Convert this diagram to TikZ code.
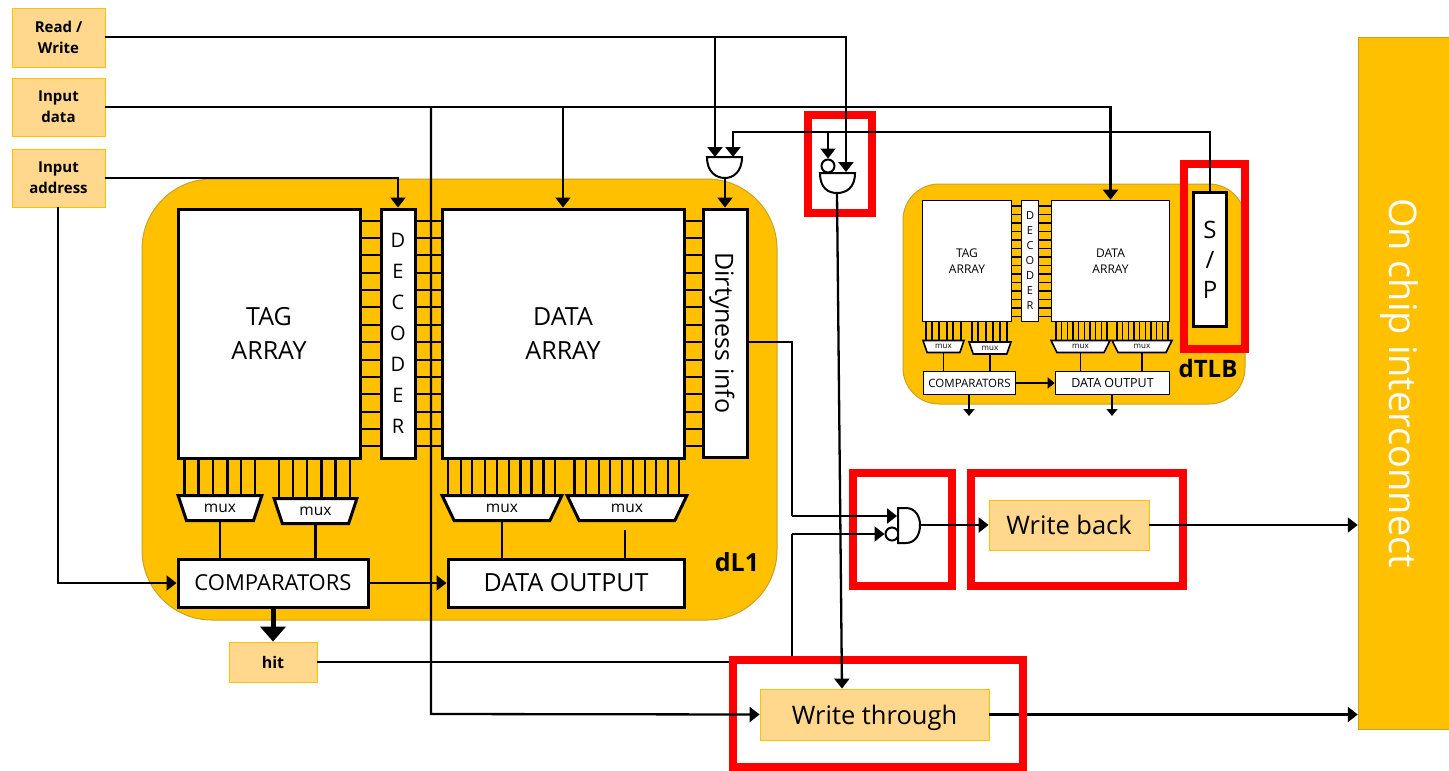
\documentclass[tikz,border=0pt]{standalone}
\usepackage{fontspec}
\setmainfont{Open Sans}
\usetikzlibrary{arrows.meta,positioning,shapes.geometric}
\definecolor{camber}{HTML}{FFC000}
\definecolor{cpale}{HTML}{FFD88E}
\definecolor{cedge}{HTML}{C9A227}
\definecolor{cred}{HTML}{FF0000}
\newcommand{\fsz}[2]{\fontsize{#1}{#2}\selectfont}

\begin{document}
\begin{tikzpicture}[
    x=1pt, y=-1pt,
    block/.style={draw, line width=3pt, fill=white, inner sep=0pt, align=center},
    smallblock/.style={draw, line width=1.6pt, fill=white, inner sep=0pt, align=center},
    signal/.style={draw=camber, line width=0.8pt, fill=cpale, inner sep=0pt, align=center},
    mux/.style={block, trapezium, shape border rotate=180, trapezium stretches=true,
        trapezium angle=65, minimum height=25, font=\fsz{15.5}{17}},
    smallmux/.style={smallblock, trapezium, shape border rotate=180, trapezium stretches=true,
        trapezium angle=65, minimum height=12, font=\fsz{8}{9}},
    cache/.style={draw=cedge, line width=1pt, fill=camber, rounded corners=#1},
    wire/.style={line width=2.3pt, -{Triangle[length=10pt, width=15pt]}},
    smallwire/.style={line width=1.6pt, -{Triangle[length=7pt, width=11pt]}},
    line/.style={line width=2.3pt},
    gate/.style={draw, line width=2pt, fill=white},
    bubble/.style={circle, draw, line width=2pt, fill=white, minimum size=13, inner sep=0pt},
    hilite/.style={draw=cred, line width=8pt},
]
\useasboundingbox (0,0) rectangle (1449,771);

% Highlights sit under the wires
\draw[hilite] (807.5,115) rectangle (872,213);
\draw[hilite] (853,473) rectangle (952,586);
\draw[hilite] (971,473) rectangle (1183,586);

% Cache bodies
\draw[cache=70] (142,179) rectangle (777,620);
\draw[cache=36] (903,184) rectangle (1245,404);
\draw[hilite] (1184,164) rectangle (1245,349);

% Inputs and outputs
\node[signal, minimum width=93, minimum height=59, font=\bfseries\fsz{15}{21}] (readwrite) at (58.5,37.5) {Read /\\Write};
\node[signal, minimum width=93, minimum height=58, font=\bfseries\fsz{15}{21}] (inputdata) at (58.5,107) {Input\\data};
\node[signal, minimum width=93, minimum height=58, font=\bfseries\fsz{15}{21}] (inputaddr) at (58.5,178) {Input\\address};
\node[signal, minimum width=88, minimum height=40, font=\bfseries\fsz{16}{18}] (hit) at (273,662) {hit};
\node[signal, minimum width=160, minimum height=50, font=\fsz{25.5}{28}] (writeback) at (1069,525) {Write back};
\node[signal, minimum width=229, minimum height=51, font=\fsz{25.5}{28}, text depth=0pt] (writethrough) at (874.5,714.5) {Write through};
\node[fill=camber, draw=cedge, line width=0.5pt, inner sep=0pt, minimum width=91, minimum height=692] (interconnect) at (1403.5,383) {};
\node[rotate=-90, text=white, font=\fsz{38}{42}, text depth=0pt] (interconnecttext) at (interconnect) {On chip interconnect};

% dL1 word lines
\foreach \y in {0,...,13} {
    \draw[line width=2pt] (361,220.7+17.35*\y) -- (441,220.7+17.35*\y);
}
\foreach \y in {0,...,13} {
    \draw[line width=2pt] (685,220.7+17.35*\y) -- (702,220.7+17.35*\y);
}

% dL1 arrays
\node[block, minimum width=182, minimum height=249, font=\fsz{25}{34}] (tagarray) at (269,333.5) {TAG\\ARRAY};
\node[block, minimum width=34, minimum height=249, font=\fsz{20}{31}] (decoder) at (398,333.5) {D\\E\\C\\O\\D\\E\\R};
\node[block, minimum width=242, minimum height=249, font=\fsz{25}{34}] (dataarray) at (563,333.5) {DATA\\ARRAY};
\node[block, minimum width=44, minimum height=248] (dirty) at (725,333) {};
\node[rotate=-90, font=\fsz{25}{28}, text depth=0pt] (dirtytext) at (dirty) {Dirtyness info};
\node[block, minimum width=190, minimum height=48, font=\fsz{22}{24}] (comparators) at (273,583) {COMPARATORS};
\node[block, minimum width=236, minimum height=48, font=\fsz{25}{28}] (dataoutput) at (566,583) {DATA OUTPUT};

% dL1 mux columns
\foreach \x in {184.5,198.6,213,227.5,241.3,255} {
    \draw[line] (\x,459) -- (\x,495);
}
\foreach \x in {279,293,307,321.5,335.6,350} {
    \draw[line] (\x,459) -- (\x,498);
}
\foreach \x in {448,461,472,485,497,509,520.6,531.6,543.6,555,574.6,586,599,610,622,633,645,656,668,679} {
    \draw[line] (\x,459) -- (\x,495);
}
\node[mux, minimum width=84] (muxa) at (220,508) {mux};
\node[mux, minimum width=83] (muxb) at (315.5,511) {mux};
\node[mux, minimum width=120] (muxc) at (502,508) {mux};
\node[mux, minimum width=120] (muxd) at (627,508) {mux};
\draw[line] (muxa.south) -- (muxa.south |- comparators.north);
\draw[line] (muxb.south) -- (muxb.south |- comparators.north);
\draw[line] (muxc.south) -- (muxc.south |- dataoutput.north);
\draw[line] (625,530) -- (625,558);

% dTLB word lines
\foreach \y in {0,...,13} {
    \draw[line width=1.4pt] (1012,206+8.5*\y) -- (1051,206+8.5*\y);
}

% dTLB arrays
\node[smallblock, minimum width=89, minimum height=121, font=\fsz{12}{16.5}] (tagtlb) at (967,261) {TAG\\ARRAY};
\node[smallblock, minimum width=17, minimum height=121, font=\fsz{11}{15}] (decodertlb) at (1030,261) {D\\E\\C\\O\\D\\E\\R};
\node[smallblock, minimum width=118, minimum height=121, font=\fsz{12}{16.5}] (datatlb) at (1110.5,261) {DATA\\ARRAY};
\node[smallblock, minimum width=92, minimum height=23, font=\fsz{11.5}{14}] (comparatorstlb) at (969.5,383) {COMPARATORS};
\node[smallblock, minimum width=114, minimum height=23, font=\fsz{12.5}{14}] (dataoutputtlb) at (1112.5,383) {DATA OUTPUT};
\node[block, minimum width=33, minimum height=134, font=\fsz{24}{30}] (sp) at (1210,259.5) {S\\/\\P};

% dTLB mux columns
\foreach \x in {926,932,939,947,953,961,972,978,986,993,1000,1007} {
    \draw[line width=1.4pt] (\x,322) -- (\x,341);
}
\foreach \x in {1056,1061.7,1067.4,1073,1078.7,1084.4,1090,1095.7,1101.4,1107,1117,1122.7,1128.4,1134,1139.7,1145.4,1151,1156.7,1162.4,1168} {
    \draw[line width=1.4pt] (\x,322) -- (\x,341);
}
\node[smallmux, minimum width=41] (muxatlb) at (943.5,346.5) {mux};
\node[smallmux, minimum width=42] (muxbtlb) at (990,348) {mux};
\node[smallmux, minimum width=59] (muxctlb) at (1080.5,346.5) {mux};
\node[smallmux, minimum width=60] (muxdtlb) at (1142,346.5) {mux};
\draw[line width=1.4pt] (muxatlb.south) -- (muxatlb.south |- comparatorstlb.north);
\draw[line width=1.4pt] (muxbtlb.south) -- (muxbtlb.south |- comparatorstlb.north);
\draw[line width=1.4pt] (muxctlb.south) -- (muxctlb.south |- dataoutputtlb.north);
\draw[line width=1.4pt] (muxdtlb.south) -- (muxdtlb.south |- dataoutputtlb.north);

% dTLB outputs
\coordinate (comparatorsout) at (969,416);
\coordinate (dataoutputout) at (1112,416);
\draw[smallwire] (comparatorstlb.east) -- (dataoutputtlb.west);
\draw[smallwire] (comparatorstlb.south -| comparatorsout) -- (comparatorsout);
\draw[smallwire] (dataoutputtlb.south -| dataoutputout) -- (dataoutputout);

% Cache labels
\node[font=\bfseries\fsz{25}{27}] (dlabel) at (737,562) {dL1};
\node[font=\bfseries\fsz{24}{26}] (tlblabel) at (1208,368) {dTLB};

% Dirty gate
\coordinate (gatedirtya) at (715,157);
\coordinate (gatedirtyb) at (733,157);
\coordinate (gatedirtyout) at (725,178);
\draw[gate] (707,157) -- (742,157) .. controls (742,172) and (733,178) .. (725,178)
    .. controls (716,178) and (707,172) .. (707,157) -- cycle;

% Write through gate
\coordinate (gatethrougha) at (846,172);
\coordinate (gatethroughout) at (837,193);
\node[bubble] (bubblethrough) at (828,166) {};
\draw[gate] (820,173) -- (855,173) .. controls (855,188) and (846,193) .. (837,193)
    .. controls (828,193) and (820,188) .. (820,173) -- cycle;

% Write back gate
\coordinate (gatebacka) at (897,516);
\coordinate (gatebackout) at (920,525);
\node[bubble] (bubbleback) at (892,534) {};
\draw[gate] (898,508) -- (906,508) .. controls (915,508) and (920,516) .. (920,525)
    .. controls (920,535) and (915,543) .. (906,543) -- (898,543) -- cycle;

% These two go under the write through highlight
\coordinate (hitturn) at (792,534);
\draw[line] (hit.east) -- (792,662) -- (hitturn);
\draw[wire] (writethrough.east) -- (interconnect.west |- writethrough.east);
\draw[hilite] (733,660) rectangle (1023,767);

% Control wires
\coordinate (readturn) at (846,37);
\coordinate (dirtyout) at (748,342);
\coordinate (dirtyturn) at (792,516);
\draw[wire] (readwrite.east |- readturn) -| (gatethrougha);
\draw[wire] (gatedirtya |- readturn) -- (gatedirtya);
\draw[wire] (inputdata.east) -| (datatlb.north);
\draw[wire] (inputdata.east -| dataarray.north) -- (dataarray.north);
\draw[wire] (inputdata.east -| 431,0) -- (431,714) -- (writethrough.west);
\draw[wire] (inputaddr.east) -| (decoder.north);
\draw[wire] (inputaddr.south -| 58,0) -- (58,583) -- (comparators.west);
\draw[wire] (comparators.east) -- (dataoutput.west);
\draw[line width=5pt, -{Triangle[length=15pt, width=25pt]}] (comparators.south) -- (hit.north);
\draw[wire] (gatedirtyout) -- (dirty.north);

% Serial link from the TLB
\draw[wire] (sp.north) -- (1210,132) -- (733,132) -- (gatedirtyb);
\draw[wire] (bubblethrough.north |- 0,132) -- (bubblethrough.north);

% Write policy wires
\draw[line] (dirtyout) -- (792,342) -- (dirtyturn);
\draw[wire] (dirtyturn) -- (gatebacka);
\draw[wire] (hitturn) -- (bubbleback.west);
\draw[wire] (gatebackout) -- (writeback.west);
\draw[wire] (gatethroughout) -- (writethrough.north -| 842,0);
\draw[wire] (writeback.east) -- (interconnect.west |- writeback.east);

\end{tikzpicture}
\end{document}
